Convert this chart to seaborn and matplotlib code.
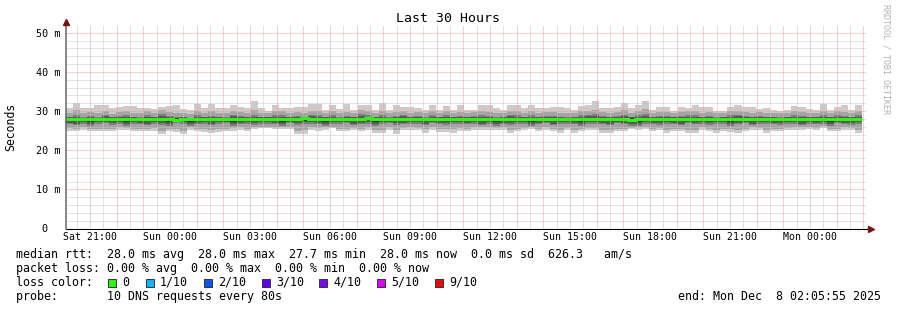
import numpy as np
import pandas as pd
import matplotlib
matplotlib.use("Agg")
import matplotlib.pyplot as plt
import seaborn as sns
from matplotlib.patches import Rectangle
from matplotlib.transforms import ScaledTranslation

# ---------------- data ----------------
start_time = pd.Timestamp("2025-12-06 20:05:55")
end_time = pd.Timestamp("2025-12-08 02:05:55")
step_seconds = 960

# sorted pings per column (ms): p1 lowest ... p10 highest
p10 = [30.8, 32.1, 30.8, 30.8, 31.5, 31.5, 30.8, 31.0, 31.2, 31.3, 30.8, 30.8, 30.5, 31.0, 31.2, 31.6, 30.5, 30.2, 31.8, 30.8, 31.8, 30.8, 30.8, 31.6, 31.0, 30.8, 32.5, 30.8,
       30.0, 31.5, 30.8, 30.8, 31.0, 31.0, 31.8, 31.8, 30.3, 31.6, 30.5, 31.8, 30.3, 31.6, 31.6, 30.3, 32.1, 30.3, 31.5, 31.0, 31.0, 30.8, 30.3, 31.6, 30.2, 31.2, 30.3, 31.6,
       30.3, 30.3, 31.6, 31.5, 30.8, 30.3, 31.5, 31.6, 30.8, 31.6, 30.8, 30.8, 31.0, 31.0, 30.8, 30.2, 31.2, 31.6, 32.5, 30.9, 30.8, 31.0, 32.0, 30.8, 31.5, 32.5, 30.3, 31.0,
       31.0, 30.0, 31.0, 30.8, 31.5, 31.0, 31.0, 30.0, 30.0, 31.0, 31.6, 31.0, 31.0, 30.5, 30.8, 30.3, 30.0, 30.3, 31.2, 31.0, 30.5, 30.3, 31.8, 30.3, 31.0, 31.5, 30.3, 31.6]
p9 = [29.6, 30.2, 29.4, 29.8, 29.5, 30.0, 29.3, 29.7, 30.1, 29.6, 29.4, 29.9, 29.5, 30.2, 29.8, 29.4, 29.6, 29.3, 30.0, 29.5, 29.9, 29.6, 29.4, 30.1, 29.7, 29.5, 30.3, 29.6,
      29.4, 29.9, 30.0, 29.6, 29.8, 29.5, 30.1, 29.9, 29.5, 30.0, 29.4, 29.8, 29.6, 30.2, 29.9, 29.5, 30.0, 29.4, 29.7, 30.1, 29.6, 29.8, 29.4, 29.9, 29.5, 30.0, 29.6, 29.8,
      29.5, 29.7, 30.0, 29.8, 29.4, 29.6, 30.1, 29.9, 29.5, 30.0, 29.6, 29.8, 29.7, 29.5, 29.4, 29.6, 29.9, 30.1, 30.3, 29.8, 29.5, 29.7, 30.2, 29.6, 29.9, 30.4, 29.5, 29.8,
      29.7, 29.5, 29.8, 29.9, 30.0, 29.6, 29.8, 29.4, 29.5, 29.9, 30.1, 29.7, 29.6, 29.8, 29.5, 29.6, 29.4, 29.5, 29.9, 29.8, 29.6, 29.5, 30.0, 29.6, 29.9, 29.8, 29.5, 30.0]
p8 = [28.6, 29.0, 28.5, 28.8, 28.4, 29.1, 28.5, 28.7, 28.9, 28.6, 28.4, 29.0, 28.5, 29.2, 28.7, 28.4, 28.6, 28.3, 28.9, 28.5, 28.8, 28.6, 28.4, 29.1, 28.7, 28.5, 29.0, 28.6,
      28.5, 28.9, 29.0, 28.6, 28.8, 28.5, 29.1, 28.9, 28.5, 29.0, 28.4, 28.7, 28.6, 29.2, 28.9, 28.5, 29.0, 28.4, 28.7, 29.1, 28.6, 28.8, 28.4, 28.9, 28.5, 29.0, 28.6, 28.8,
      28.5, 28.7, 29.0, 28.8, 28.4, 28.6, 29.1, 28.9, 28.5, 29.0, 28.6, 28.8, 28.7, 28.5, 28.4, 28.6, 28.9, 29.1, 29.2, 28.8, 28.5, 28.7, 29.1, 28.6, 28.9, 29.3, 28.5, 28.8,
      28.7, 28.5, 28.8, 28.9, 29.0, 28.6, 28.8, 28.4, 28.5, 28.9, 29.1, 28.7, 28.6, 28.8, 28.5, 28.6, 28.4, 28.5, 28.9, 28.8, 28.6, 28.5, 29.0, 28.6, 28.9, 28.8, 28.5, 29.0]
p7 = [28.4, 28.6, 28.3, 28.5, 28.3, 28.7, 28.4, 28.5, 28.6, 28.4, 28.3, 28.6, 28.4, 28.7, 28.5, 28.3, 28.4, 28.3, 28.6, 28.4, 28.5, 28.4, 28.3, 28.7, 28.5, 28.4, 28.6, 28.4,
      28.4, 28.6, 28.6, 28.4, 28.5, 28.4, 28.7, 28.6, 28.4, 28.6, 28.3, 28.5, 28.4, 28.7, 28.6, 28.4, 28.6, 28.3, 28.5, 28.7, 28.4, 28.5, 28.3, 28.6, 28.4, 28.6, 28.4, 28.5,
      28.4, 28.5, 28.6, 28.5, 28.3, 28.4, 28.7, 28.6, 28.4, 28.6, 28.4, 28.5, 28.5, 28.4, 28.3, 28.4, 28.6, 28.7, 28.7, 28.5, 28.4, 28.5, 28.7, 28.4, 28.6, 28.8, 28.4, 28.5,
      28.5, 28.4, 28.5, 28.6, 28.6, 28.4, 28.5, 28.3, 28.4, 28.6, 28.7, 28.5, 28.4, 28.5, 28.4, 28.4, 28.3, 28.4, 28.6, 28.5, 28.4, 28.4, 28.6, 28.4, 28.6, 28.5, 28.4, 28.6]
p6 = [28.2, 28.3, 28.1, 28.2, 28.1, 28.3, 28.2, 28.2, 28.3, 28.1, 28.2, 28.3, 28.1, 28.3, 28.2, 28.1, 28.2, 28.1, 28.3, 28.2, 28.2, 28.1, 28.2, 28.3, 28.2, 28.1, 28.3, 28.2,
      28.1, 28.3, 28.2, 28.2, 28.3, 28.1, 28.3, 28.2, 28.1, 28.3, 28.2, 28.2, 28.1, 28.3, 28.2, 28.1, 28.3, 28.2, 28.2, 28.3, 28.1, 28.2, 28.1, 28.3, 28.2, 28.3, 28.1, 28.2,
      28.2, 28.2, 28.3, 28.2, 28.1, 28.2, 28.3, 28.2, 28.1, 28.3, 28.2, 28.2, 28.3, 28.1, 28.2, 28.1, 28.3, 28.3, 28.3, 28.2, 28.1, 28.2, 28.3, 28.1, 28.2, 28.3, 28.2, 28.2,
      28.2, 28.1, 28.2, 28.3, 28.3, 28.1, 28.2, 28.1, 28.2, 28.3, 28.3, 28.2, 28.1, 28.2, 28.2, 28.1, 28.1, 28.2, 28.3, 28.2, 28.1, 28.2, 28.3, 28.1, 28.3, 28.2, 28.1, 28.3]
p5 = [27.5, 27.4, 27.6, 27.3, 27.5, 27.6, 27.4, 27.5, 27.2, 27.6, 27.5, 27.4, 27.6, 27.5, 27.3, 27.6, 27.5, 27.2, 27.5, 27.6, 27.4, 27.5, 27.6, 27.3, 27.5, 27.6, 27.4, 27.5,
      27.6, 27.5, 27.3, 27.6, 27.4, 27.5, 27.6, 27.5, 27.3, 27.6, 27.5, 27.6, 27.4, 27.5, 27.6, 27.3, 27.5, 27.6, 27.4, 27.5, 27.6, 27.5, 27.4, 27.6, 27.5, 27.4, 27.6, 27.5,
      27.5, 27.6, 27.4, 27.5, 27.3, 27.5, 27.4, 27.6, 27.5, 27.3, 27.5, 27.6, 27.4, 27.5, 27.6, 27.5, 27.3, 27.5, 27.6, 27.5, 27.4, 27.6, 27.5, 27.2, 27.2, 27.6, 27.5, 27.4,
      27.6, 27.5, 27.4, 27.6, 27.5, 27.6, 27.4, 27.5, 27.6, 27.2, 27.5, 27.6, 27.4, 27.5, 27.6, 27.5, 27.4, 27.6, 27.5, 27.4, 27.6, 27.5, 27.5, 27.3, 27.6, 27.5, 27.4, 27.6]
p4 = [27.0, 26.8, 27.2, 26.7, 27.1, 27.3, 26.9, 27.1, 26.6, 27.2, 27.0, 26.8, 27.2, 27.0, 26.7, 27.3, 27.1, 26.6, 27.0, 27.2, 26.8, 27.1, 27.3, 26.7, 27.0, 27.2, 26.9, 27.1,
      27.2, 27.0, 26.7, 27.3, 26.9, 27.1, 27.2, 27.0, 26.6, 27.2, 27.1, 27.3, 26.8, 27.0, 27.2, 26.7, 27.1, 27.3, 26.9, 27.0, 27.2, 27.1, 26.8, 27.3, 27.0, 26.9, 27.2, 27.1,
      27.0, 27.2, 26.8, 27.1, 26.7, 27.0, 26.9, 27.2, 27.1, 26.6, 27.0, 27.3, 26.8, 27.1, 27.2, 27.0, 26.7, 27.1, 27.2, 27.0, 26.8, 27.3, 27.0, 26.6, 26.7, 27.2, 27.0, 26.9,
      27.2, 27.0, 26.8, 27.3, 27.0, 27.2, 26.9, 27.1, 27.2, 26.6, 27.0, 27.3, 26.8, 27.1, 27.2, 27.0, 26.9, 27.2, 27.1, 26.8, 27.2, 27.0, 27.1, 26.7, 27.3, 27.0, 26.9, 27.2]
p3 = [26.6, 26.4, 26.8, 26.3, 26.7, 26.9, 26.5, 26.7, 26.2, 26.8, 26.6, 26.4, 26.8, 26.5, 26.3, 26.9, 26.6, 26.2, 26.6, 26.8, 26.4, 26.7, 26.9, 26.3, 26.6, 26.8, 26.5, 26.7,
      26.8, 26.6, 26.3, 26.9, 26.5, 26.7, 26.8, 26.6, 26.2, 26.8, 26.7, 26.9, 26.4, 26.6, 26.8, 26.3, 26.7, 26.9, 26.5, 26.6, 26.8, 26.7, 26.4, 26.9, 26.6, 26.5, 26.8, 26.7,
      26.6, 26.8, 26.4, 26.7, 26.3, 26.6, 26.5, 26.8, 26.7, 26.2, 26.6, 26.9, 26.4, 26.7, 26.8, 26.6, 26.3, 26.7, 26.8, 26.6, 26.4, 26.9, 26.6, 26.2, 26.3, 26.8, 26.6, 26.5,
      26.8, 26.6, 26.4, 26.9, 26.6, 26.8, 26.5, 26.7, 26.8, 26.2, 26.6, 26.9, 26.4, 26.7, 26.8, 26.6, 26.5, 26.8, 26.7, 26.4, 26.8, 26.6, 26.7, 26.3, 26.9, 26.6, 26.5, 26.8]
p2 = [25.6, 25.4, 25.8, 25.5, 25.4, 25.5, 25.5, 25.8, 25.7, 25.5, 25.4, 25.5, 25.6, 25.0, 25.4, 25.5, 25.0, 25.8, 25.4, 25.3, 25.2, 25.3, 25.5, 25.6, 25.8, 25.5, 25.9, 26.0,
      26.0, 25.9, 26.0, 25.9, 25.0, 25.1, 25.8, 25.6, 25.8, 26.0, 25.5, 25.5, 25.7, 25.5, 25.8, 25.2, 25.2, 25.8, 25.1, 25.7, 25.8, 25.7, 25.3, 25.8, 25.4, 25.4, 25.3, 25.6,
      25.5, 25.8, 25.8, 25.8, 25.7, 25.8, 25.2, 25.5, 25.7, 25.8, 25.5, 25.8, 25.5, 25.2, 25.7, 25.2, 25.5, 25.7, 25.7, 25.2, 25.2, 25.5, 25.5, 25.7, 25.8, 26.0, 25.5, 25.7,
      25.2, 25.5, 25.5, 25.2, 25.2, 25.8, 25.5, 25.2, 25.5, 25.3, 25.2, 25.5, 25.8, 25.7, 25.2, 25.5, 25.5, 25.7, 25.8, 25.8, 26.0, 25.7, 26.1, 25.5, 25.5, 25.8, 25.7, 25.2]
p1 = [25.0, 24.8, 25.2, 25.0, 24.8, 24.8, 24.9, 25.2, 25.2, 24.9, 24.8, 24.9, 25.0, 24.1, 24.8, 24.7, 24.1, 25.2, 24.8, 24.6, 24.5, 24.6, 24.8, 25.0, 25.2, 24.8, 25.4, 25.6,
      25.6, 25.4, 25.5, 25.5, 24.1, 24.1, 25.2, 25.0, 25.2, 25.6, 24.8, 24.8, 25.1, 24.8, 25.2, 24.4, 24.4, 25.1, 24.2, 25.1, 25.1, 25.1, 24.5, 25.1, 24.7, 24.7, 24.5, 25.0,
      24.8, 25.2, 25.2, 25.2, 25.1, 25.2, 24.4, 24.8, 25.1, 25.5, 24.8, 25.1, 24.8, 24.4, 25.1, 24.4, 24.8, 25.1, 25.1, 24.4, 24.4, 24.8, 24.8, 25.5, 25.2, 25.5, 24.8, 25.1,
      24.4, 24.8, 24.8, 24.4, 24.4, 25.2, 24.8, 24.4, 24.8, 24.6, 24.4, 24.8, 25.2, 25.1, 24.4, 24.8, 24.8, 25.1, 25.2, 25.2, 25.5, 25.1, 25.7, 24.8, 24.8, 25.2, 25.1, 24.4]
median_rtt = [28.0, 28.0, 28.0, 28.0, 28.0, 28.0, 28.0, 28.0, 28.0, 27.9, 28.0, 28.0, 28.0, 28.0, 28.0, 27.6, 28.0, 28.0, 28.0, 28.0, 28.0, 28.0, 28.0, 28.0, 28.0, 28.0, 28.0, 28.0,
              28.0, 28.0, 28.0, 28.0, 28.0, 28.1, 28.0, 28.0, 28.0, 28.0, 28.0, 28.0, 28.0, 28.0, 28.1, 28.0, 28.0, 28.0, 28.0, 28.0, 28.0, 28.0, 28.0, 28.0, 28.0, 28.0, 28.0, 28.0,
              28.0, 28.0, 28.0, 28.0, 28.0, 28.0, 28.0, 28.0, 28.0, 28.0, 28.0, 28.0, 28.0, 28.0, 28.0, 28.0, 28.0, 28.0, 28.0, 28.0, 28.0, 28.0, 28.0, 27.7, 28.0, 28.0, 28.0, 28.0,
              28.0, 28.0, 28.0, 28.0, 28.0, 28.0, 28.0, 28.0, 28.0, 27.9, 28.0, 28.0, 28.0, 28.0, 28.0, 28.0, 28.0, 28.0, 28.0, 28.0, 28.0, 28.0, 28.0, 28.0, 28.0, 28.0, 28.0, 28.0]

y_ticks = [0, 10, 20, 30, 40, 50]
y_tick_labels = ["0", "10 m", "20 m", "30 m", "40 m", "50 m"]
x_tick_labels = ["Sat 21:00", "Sun 00:00", "Sun 03:00", "Sun 06:00", "Sun 09:00",
                 "Sun 12:00", "Sun 15:00", "Sun 18:00", "Sun 21:00", "Mon 00:00"]

legend_lines = [
    "median rtt:  28.0 ms avg  28.0 ms max  27.7 ms min  28.0 ms now  0.0 ms sd  626.3   am/s",
    "packet loss: 0.00 % avg  0.00 % max  0.00 % min  0.00 % now",
    "loss color:",
    "probe:       10 DNS requests every 80s",
]
loss_labels = ["0", "1/10", "2/10", "3/10", "4/10", "5/10", "9/10"]
loss_colors = ["#26ff00", "#00b8ff", "#0059ff", "#5e00ff", "#7e00ff", "#dd00ff", "#ff0000"]
end_label = "end: Mon Dec  8 02:05:55 2025"
title = "Last 30 Hours"

# ---------------- figure ----------------
sns.set_theme(style="white")
plt.rcParams['font.family'] = ['DejaVu Sans Mono', 'DejaVu Sans']
plt.rcParams['lines.scale_dashes'] = True

W, H = 897, 310
fig = plt.figure(figsize=(W / 100, H / 100), dpi=100, facecolor="white")
ax_left, ax_right, ax_bottom, ax_top = 66, 866, 228.5, 26
ax = fig.add_axes([ax_left / W, 1 - ax_bottom / H, (ax_right - ax_left) / W, (ax_bottom - ax_top) / H])
ax.set_facecolor("white")

total_hours = (end_time - start_time).total_seconds() / 3600.0
n = len(median_rtt)
step_h = step_seconds / 3600.0
x_edges = np.arange(n + 1) * step_h

def ext(a):
    a = list(a)
    return np.array(a + [a[-1]])

pings = [p1, p2, p3, p4, p5, p6, p7, p8, p9, p10]
half = len(pings) // 2
for ibot in range(1, half + 1):
    itop = len(pings) + 1 - ibot
    c = int(190 / half * (half - ibot)) + 50
    col = "#%02x%02x%02x" % (c, c, c)
    ax.fill_between(x_edges, ext(pings[ibot - 1]), ext(pings[itop - 1]), step="post",
                    color=col, linewidth=0, zorder=1)

df = pd.DataFrame({"t": x_edges, "median": ext(median_rtt)})
sns.lineplot(data=df, x="t", y="median", drawstyle="steps-post", color="#26ff00",
             linewidth=2.16, ax=ax, zorder=3, estimator=None, legend=False)
for l in ax.lines:
    l.set_solid_capstyle("butt")
    l.set_solid_joinstyle("miter")
ax.set_xlabel("")
ax.set_ylabel("")

ax.set_xlim(0, total_hours)
ax.set_ylim(0, (ax_bottom - ax_top) / 3.915)

# time ticks
first_hour = (pd.Timestamp("2025-12-06 21:00:00") - start_time).total_seconds() / 3600.0
first_half = (pd.Timestamp("2025-12-06 20:30:00") - start_time).total_seconds() / 3600.0
hour_ticks = np.arange(first_hour, total_hours, 1.0)
half_ticks = np.arange(first_half, total_hours, 1.0)
labels = []
for i, h in enumerate(hour_ticks):
    labels.append(x_tick_labels[i // 3] if i % 3 == 0 else "")
ax.set_xticks(hour_ticks)
ax.set_xticklabels(labels)
ax.set_xticks(half_ticks, minor=True)
ax.set_yticks(y_ticks)
ax.set_yticklabels(y_tick_labels)
ax.set_yticks(np.arange(2, 52, 2), minor=True)

dot = (0, (1, 1))
ax.grid(False)
ax.set_axisbelow(False)
ax.grid(which="minor", axis="both", color="#c8c8c8", linestyle=dot, linewidth=0.72)
ax.grid(which="major", axis="both", color="#f4a0a0", linestyle=dot, linewidth=0.72)
for t in ax.xaxis.get_major_ticks():
    t.gridline.set_zorder(2.6)
for t in ax.xaxis.get_minor_ticks() + ax.yaxis.get_minor_ticks():
    t.gridline.set_zorder(2.4)
for t in ax.yaxis.get_major_ticks():
    t.gridline.set_zorder(2.5)

ax.tick_params(axis="x", which="major", length=2.5, width=0.72, color="#ff8080",
               direction="inout", pad=1.0, labelsize=7.1, labelcolor="#000000")
ax.tick_params(axis="x", which="minor", length=0)
ax.tick_params(axis="y", which="both", length=0, pad=4.3, labelsize=7.3, labelcolor="#000000")
for lab in ax.get_yticklabels():
    if lab.get_text() == "0":
        lab.set_transform(lab.get_transform() + ScaledTranslation(-0.122, 0, fig.dpi_scale_trans))

for s in ax.spines.values():
    s.set_visible(False)

# axis lines with arrows
ax.plot([0, 1.004], [0, 0], transform=ax.transAxes, color="#000000", lw=0.8, clip_on=False, zorder=5)
ax.plot([0, 0], [0, 1.01], transform=ax.transAxes, color="#666666", lw=1.1, clip_on=False, zorder=5)
ax.plot([1.006], [0], transform=ax.transAxes, marker=">", ms=4, color="#7a1010", clip_on=False, zorder=6)
ax.plot([0], [1.018], transform=ax.transAxes, marker="^", ms=4, color="#7a1010", clip_on=False, zorder=6)

# texts
def fy(py):
    return 1 - py / H

fig.text(448 / W, fy(19), title, ha="center", va="center", fontsize=9.5, color="#000000")
fig.text(11 / W, fy(127), "Seconds", rotation=90, ha="center", va="center", fontsize=8.3, color="#000000")
fig.text(886 / W, fy(4), "RRDTOOL / TOBI OETIKER", rotation=-90, ha="center", va="top",
         fontsize=6.0, color="#b0b0b0")

legend_y = [254.3, 268.3, 282.3, 296.3]
for txt, yy in zip(legend_lines, legend_y):
    fig.text(16 / W, fy(yy), txt, ha="left", va="center", fontsize=8.35, color="#000000")
fig.text(881 / W, fy(legend_y[3]), end_label, ha="right", va="center", fontsize=8.35, color="#000000")

box_x = [108, 146, 204, 262, 319, 377, 435]
for bx, lab, colr in zip(box_x, loss_labels, loss_colors):
    fig.add_artist(Rectangle((bx / W, fy(286.5)), 8 / W, 8 / H, transform=fig.transFigure,
                             facecolor=colr, edgecolor="#333333", linewidth=0.7))
    fig.text((bx + 14) / W, fy(legend_y[2]), lab, ha="left", va="center", fontsize=8.35, color="#000000")

fig.savefig("out.png", dpi=100, facecolor="white")
